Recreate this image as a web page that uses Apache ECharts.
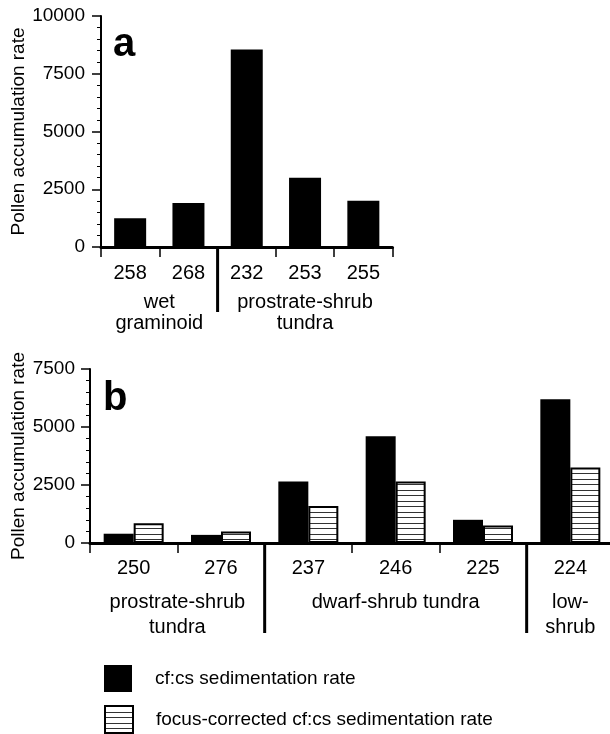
<!DOCTYPE html>
<html>
<head>
<meta charset="utf-8">
<script src="https://cdn.jsdelivr.net/npm/echarts@6/dist/echarts.min.js"></script>
<style>
html,body{margin:0;padding:0;background:#fff;}
#chart{width:610px;height:734px;}
</style>
</head>
<body>
<div id="chart"></div>
<script>
// ---- data ----
const sitesA = ['258', '268', '232', '253', '255'];
const cfcsA = [1250, 1900, 8550, 3000, 2000];
const groupsA = [
  { start: 0, end: 1, lines: ['wet', 'graminoid'] },
  { start: 2, end: 4, lines: ['prostrate-shrub', 'tundra'] }
];
const yTicksA = { max: 10000, interval: 2500 };

const sitesB = ['250', '276', '237', '246', '225', '224'];
const cfcsB = [400, 350, 2650, 4600, 1000, 6200];
const focusB = [850, 500, 1600, 2650, 750, 3250];
const groupsB = [
  { start: 0, end: 1, lines: ['prostrate-shrub', 'tundra'] },
  { start: 2, end: 4, lines: ['dwarf-shrub tundra'] },
  { start: 5, end: 5, lines: ['low-', 'shrub'] }
];
const yTicksB = { max: 7500, interval: 2500 };

const nameCf = 'cf:cs sedimentation rate';
const nameFocus = 'focus-corrected cf:cs sedimentation rate';
const yTitle = 'Pollen accumulation rate';

// ---- styles ----
const FONT = '"Liberation Sans", Arial, Helvetica, sans-serif';
const FS = 19;
const FSX = 20;

// hatch pattern
const hatch = document.createElement('canvas');
hatch.width = 8; hatch.height = 11;
(function () {
  const c = hatch.getContext('2d');
  c.fillStyle = '#fff'; c.fillRect(0, 0, 8, 11);
  c.fillStyle = '#333';
  c.fillRect(0, 0, 8, 1);
  c.fillRect(0, 6, 8, 1);
})();

function groupRenderer(groups, numOff, lineH, divLen) {
  return function (params, api) {
    const g = groups[params.dataIndex];
    const s = api.value(0), e = api.value(1);
    const band = api.size([1, 0])[0];
    const p0 = api.coord([s, 0]);
    const p1 = api.coord([e, 0]);
    const left = p0[0] - band / 2, right = p1[0] + band / 2;
    const cx = (left + right) / 2, y0 = p0[1];
    const children = [];
    g.lines.forEach(function (t, k) {
      children.push({
        type: 'text',
        style: {
          text: t, x: cx, y: y0 + numOff + k * lineH,
          align: 'center', verticalAlign: 'middle',
          font: FSX + 'px ' + FONT, fill: '#000'
        }
      });
    });
    if (s > 0) {
      children.push({
        type: 'line',
        shape: { x1: left, y1: y0, x2: left, y2: y0 + divLen },
        style: { stroke: '#000', lineWidth: 3 }
      });
    }
    return { type: 'group', children: children };
  };
}

function yAxisCfg(t, gap, margin) {
  return {
    type: 'value', min: 0, max: t.max, interval: t.interval,
    name: yTitle, nameLocation: 'middle', nameGap: gap, nameMoveOverlap: false,
    nameTextStyle: { fontFamily: FONT, fontSize: FS, color: '#000' },
    axisLine: { show: true, lineStyle: { color: '#000', width: 2 } },
    axisTick: { show: true, length: 9, lineStyle: { color: '#000', width: 1.5 } },
    minorTick: { show: true, splitNumber: 5, length: 4, lineStyle: { color: '#000', width: 1 } },
    splitLine: { show: false },
    axisLabel: { fontFamily: FONT, fontSize: FS, color: '#000', margin: margin,
      formatter: function (v) { return String(v); } }
  };
}

function xAxisCfg(cats, grid, margin) {
  return {
    type: 'category', data: cats, gridIndex: grid,
    axisLine: { show: true, onZero: true, lineStyle: { color: '#000', width: 3 } },
    axisTick: { show: true, length: 10, lineStyle: { color: '#000', width: 1.5 } },
    axisLabel: { fontFamily: FONT, fontSize: FSX, color: '#000', margin: margin }
  };
}

function legendCfg(top, item) {
  return {
    orient: 'vertical', left: 104, top: top, padding: 0,
    itemWidth: 28, itemHeight: 27,
    selectedMode: false,
    textStyle: { fontFamily: FONT, fontSize: FS, color: '#000', padding: [0, 0, 0, 18] },
    data: [item]
  };
}

const chart = echarts.init(document.getElementById('chart'), null, { renderer: 'canvas' });

chart.setOption({
  backgroundColor: '#fff',
  animation: false,
  grid: [
    { left: 101, top: 16, width: 291.5, height: 231, outerBoundsMode: 'none', containLabel: false },
    { left: 90, top: 369, width: 524, height: 174, outerBoundsMode: 'none', containLabel: false }
  ],
  xAxis: [xAxisCfg(sitesA, 0, 16), xAxisCfg(sitesB, 1, 15)],
  yAxis: [
    Object.assign(yAxisCfg(yTicksA, 73, 16), { gridIndex: 0 }),
    Object.assign(yAxisCfg(yTicksB, 62, 15), { gridIndex: 1 })
  ],
  title: [
    { text: 'a', left: 113, top: 25, padding: 0,
      textStyle: { fontFamily: FONT, fontSize: 40, fontWeight: 'bold', color: '#000' } },
    { text: 'b', left: 103, top: 379, padding: 0,
      textStyle: { fontFamily: FONT, fontSize: 40, fontWeight: 'bold', color: '#000' } }
  ],
  legend: [
    legendCfg(665, { name: nameCf, icon: 'rect',
      itemStyle: { color: '#000', borderColor: '#000', borderWidth: 0 } }),
    legendCfg(705, { name: nameFocus, icon: 'rect',
      itemStyle: { color: { image: hatch, repeat: 'repeat' }, borderColor: '#000', borderWidth: 2 } })
  ],
  series: [
    { type: 'bar', name: nameCf, xAxisIndex: 0, yAxisIndex: 0, data: cfcsA,
      barWidth: 32, itemStyle: { color: '#000' } },
    { type: 'bar', name: nameCf, xAxisIndex: 1, yAxisIndex: 1, data: cfcsB,
      barWidth: 30, barGap: '0%', itemStyle: { color: '#000' } },
    { type: 'bar', name: nameFocus, xAxisIndex: 1, yAxisIndex: 1, data: focusB,
      barWidth: 30, barGap: '0%',
      itemStyle: { color: { image: hatch, repeat: 'repeat' }, borderColor: '#000', borderWidth: 2 } },
    { type: 'custom', name: 'groupsA', xAxisIndex: 0, yAxisIndex: 0, clip: false, z: 5,
      data: groupsA.map(function (g) { return [g.start, g.end]; }),
      renderItem: groupRenderer(groupsA, 55, 21, 65) },
    { type: 'custom', name: 'groupsB', xAxisIndex: 1, yAxisIndex: 1, clip: false, z: 5,
      data: groupsB.map(function (g) { return [g.start, g.end]; }),
      renderItem: groupRenderer(groupsB, 59, 25, 90) }
  ]
});
</script>
</body>
</html>
